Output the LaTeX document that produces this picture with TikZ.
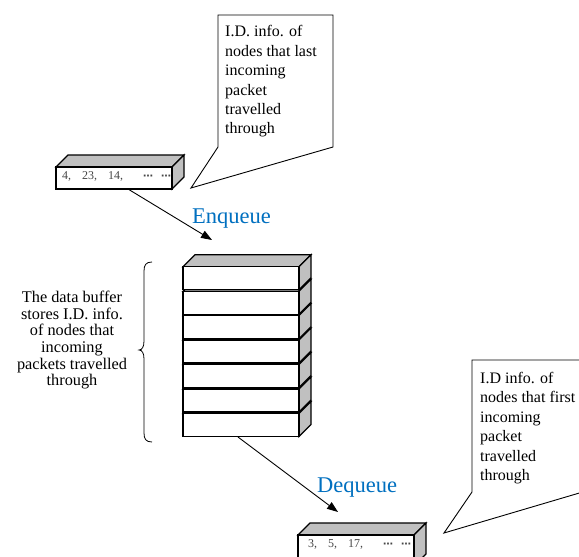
\documentclass[tikz,border=0pt]{standalone}
\usepackage{fontspec}
\setmainfont{Liberation Serif}
\newfontfamily\dotfont{DejaVu Sans}
\usetikzlibrary{arrows.meta}
\definecolor{qblue}{RGB}{0,112,192}
\definecolor{facegray}{RGB}{192,192,192}
\definecolor{txtgray}{RGB}{70,70,70}
\newcommand\mycuboid[5]{%
  \filldraw[boxline,fill=facegray] (#1,#2) -- ++(#5,-12) -- (#3+#5,#2-12) -- (#3,#2) -- cycle;
  \filldraw[boxline,fill=facegray] (#3,#2) -- (#3+#5,#2-12) -- (#3+#5,#4-12) -- (#3,#4) -- cycle;
  \filldraw[boxline,fill=white] (#1,#2) rectangle (#3,#4);}
\newcommand\mydots{{\dotfont\bfseries\fontsize{10}{12}\selectfont ⋯}}
\tikzset{
  boxline/.style={draw=black,line width=1.2pt,line join=miter},
  callout/.style={draw=black,line width=0.9pt,fill=white,line join=miter},
  calltext/.style={anchor=north west,inner sep=0pt,align=left,font=\fontsize{16}{19.4}\selectfont},
  qlabel/.style={anchor=base west,inner sep=0pt,text=qblue,font=\fontsize{22.5}{26}\selectfont},
  pkttext/.style={anchor=base west,inner sep=0pt,text=txtgray,font=\fontsize{12}{14}\selectfont},
  flow/.style={draw=black,line width=0.9pt,-{Triangle[length=11pt,width=8pt]}}
}
\begin{document}
\begin{tikzpicture}[x=1pt,y=-1pt]
\useasboundingbox (0,0) rectangle (579,557);
\clip (0,0) rectangle (579,557);
\fill[white] (0,0) rectangle (579,557);
% top callout
\draw[callout] (218,15) -- (333,15) -- (333,147) -- (191,188) -- (218,147) -- cycle;
\node[calltext] (calltop) at (225,25.5) {I.D. info. of\\nodes that last\\incoming\\packet\\travelled\\through};
% top packet
\mycuboid{56}{167}{172}{189}{12}
\node[pkttext] (pkttop) at (62,179) {4,\hspace{11pt}23,\hspace{11pt}14,\hspace{20pt}\mydots\hspace{8pt}\mydots};
\coordinate (pktout) at (128,189);
% stack
\foreach \i in {6,5,...,0}{
  \pgfmathsetmacro\yt{266.7+\i*24.45}
  \pgfmathsetmacro\yb{\yt+23}
  \mycuboid{183}{\yt}{299}{\yb}{12}
}
\coordinate (stackin) at (212,240);
\coordinate (stackout) at (238,437);
% enqueue
\draw[flow] (pktout) -- (stackin);
\node[qlabel] (enq) at (192,223) {Enqueue};
% brace
\draw[line width=0.8pt] (152,262) .. controls (146,262) and (144,265) .. (144,271) -- (144,341)
  .. controls (144,347) and (142,350) .. (139,350)
  .. controls (142,350) and (144,353) .. (144,359) -- (144,433)
  .. controls (144,439) and (146,442) .. (152,442);
\node[anchor=north,inner sep=0pt,align=center,font=\fontsize{16.3}{16.6}\selectfont] (bufdesc) at (72,291)
  {The data buffer\\stores I.D. info.\\of nodes that\\incoming\\packets travelled\\through};
% dequeue
\coordinate (pktin) at (338,512);
\draw[flow] (stackout) -- (pktin);
\node[qlabel] (deq) at (317,492) {Dequeue};
% bottom callout
\draw[callout] (472,360) -- (620,360) -- (620,481) -- (444,533) -- (472,492) -- cycle;
\node[calltext] (callbot) at (480,372) {I.D info. of\\nodes that first\\incoming\\packet\\travelled\\through};
% bottom packet
\mycuboid{298}{535}{414}{566}{12}
\node[pkttext] (pktbot) at (308,547) {3,\hspace{11pt}5,\hspace{11pt}17,\hspace{20pt}\mydots\hspace{8pt}\mydots};
\end{tikzpicture}
\end{document}
